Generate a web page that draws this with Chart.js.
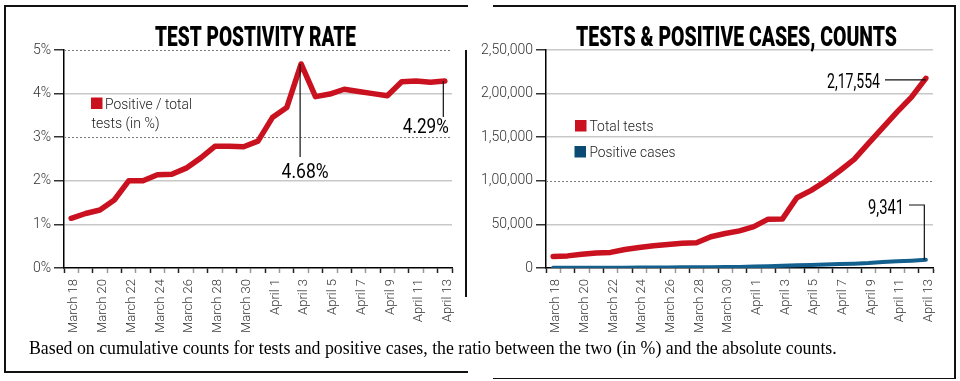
<!DOCTYPE html>
<html><head><meta charset="utf-8">
<script src="https://cdn.jsdelivr.net/npm/chart.js@4.4.1/dist/chart.umd.min.js"></script>
<style>
html,body{margin:0;padding:0;background:#fff;width:960px;height:381px;overflow:hidden}
#wrap{position:relative;width:960px;height:381px}
canvas{position:absolute;top:0}
.ln{position:absolute;background:#111}
#foot{position:absolute;left:29px;top:338px;font-family:"Liberation Serif",serif;font-size:19px;line-height:19px;white-space:nowrap;transform-origin:0 0;color:#000}
</style></head><body>
<div id="wrap">
<canvas id="c1" width="470" height="340" style="left:0"></canvas>
<canvas id="c2" width="480" height="340" style="left:480px"></canvas>
<div class="ln" style="left:4px;top:5px;width:464px;height:1.5px"></div>
<div class="ln" style="left:4px;top:5px;width:1.5px;height:367px"></div>
<div class="ln" style="left:4px;top:371px;width:464px;height:1.5px"></div>
<div class="ln" style="left:465px;top:50px;width:1.5px;height:247px"></div>
<div class="ln" style="left:493px;top:5px;width:462px;height:1.5px"></div>
<div class="ln" style="left:954px;top:5px;width:1.5px;height:374px"></div>
<div class="ln" style="left:493px;top:377.5px;width:462px;height:1.5px"></div>
<div id="foot">Based on cumulative counts for tests and positive cases, the ratio between the two (in %) and the absolute counts.</div>
</div>
<script>
// ---------- DATA ----------
const categories = ['March 18','March 19','March 20','March 21','March 22','March 23','March 24','March 25','March 26','March 27','March 28','March 29','March 30','March 31','April 1','April 2','April 3','April 4','April 5','April 6','April 7','April 8','April 9','April 10','April 11','April 12','April 13'];
const xTickLabels = ['March 18','March 20','March 22','March 24','March 26','March 28','March 30','April 1','April 3','April 5','April 7','April 9','April 11','April 13'];
const positivityRate = [1.14,1.25,1.33,1.56,2.00,2.00,2.14,2.15,2.29,2.52,2.79,2.79,2.78,2.91,3.45,3.68,4.68,3.93,3.99,4.10,4.05,4.00,3.95,4.27,4.29,4.26,4.29];
const totalTests = [13200,13900,15800,17200,17900,21200,23500,25500,27000,28500,28900,35900,39500,42600,47500,56000,56300,80500,89000,99500,111500,124500,143000,161000,179000,196000,217554];
const positiveCases = [150,174,210,268,358,424,503,548,618,718,806,1002,1098,1240,1639,2061,2635,3164,3551,4080,4516,4980,5649,6875,7679,8350,9341];
const yTickLabelsLeft = ['0%','1%','2%','3%','4%','5%'];
const yTickLabelsRight = ['0','50,000','1,00,000','1,50,000','2,00,000','2,50,000'];
const peakIndex = 16;

// ---------- helpers ----------
function indianFormat(n){
  const s = String(Math.round(n));
  if (s.length <= 3) return s;
  const last3 = s.slice(-3); let rest = s.slice(0,-3); const parts = [];
  while (rest.length > 2){ parts.unshift(rest.slice(-2)); rest = rest.slice(0,-2); }
  if (rest) parts.unshift(rest);
  return parts.join(',') + ',' + last3;
}
function fitText(ctx, text, x, y, w, align){
  const m = ctx.measureText(text).width; const s = w / m;
  const x0 = align === 'center' ? x - w/2 : (align === 'right' ? x - w : x);
  ctx.save(); ctx.translate(x0, y); ctx.scale(s, 1); ctx.textAlign = 'left'; ctx.textBaseline = 'alphabetic';
  ctx.fillText(text, 0, 0); ctx.restore();
}
function line(ctx, pts, w){
  ctx.save(); ctx.strokeStyle = '#111'; ctx.lineWidth = w || 1.2; ctx.beginPath();
  ctx.moveTo(pts[0][0], pts[0][1]); for (let i=1;i<pts.length;i++) ctx.lineTo(pts[i][0], pts[i][1]);
  ctx.stroke(); ctx.restore();
}

const dottedGrid = {
  id: 'dottedGrid',
  beforeDatasetsDraw(chart, args, opts){
    const y = chart.scales.y, a = chart.chartArea, ctx = chart.ctx;
    ctx.save(); ctx.strokeStyle = opts.color; ctx.lineWidth = 1; ctx.setLineDash([2,2]);
    opts.values.forEach(v => { const py = Math.round(y.getPixelForValue(v)) + 0.5;
      ctx.beginPath(); ctx.moveTo(a.left, py); ctx.lineTo(a.right, py); ctx.stroke(); });
    ctx.restore();
  }
};

const RED = '#c9111f', BLUE = '#13608e', LEG_BLUE = '#0b4a72';
const tickFont = {family: 'Roboto', size: 14, weight: '300'};
const xFont = {family: 'Roboto', size: 13, weight: '300'};

function xScale(){
  return {
    type: 'category', offset: true,
    grid: {display: true, drawOnChartArea: false, offset: true, tickLength: 5, tickWidth: 1.5,
      tickColor: c => (c.index % 2 ? '#9a9a9a' : '#222')},
    border: {display: true, color: '#000', width: 1.5},
    ticks: {autoSkip: false, maxRotation: 90, minRotation: 90, padding: 6, labelOffset: 3, color: '#333', font: xFont,
      callback: (v, i) => xTickLabels.includes(categories[i]) ? categories[i] : ''}
  };
}
function yScale(max, step, labels, dotted, width){
  return {
    min: 0, max: max,
    afterFit: s => { s.width = width; },
    grid: {color: c => (dotted.includes(c.tick.value) || c.tick.value === 0) ? 'rgba(0,0,0,0)' : '#c8c8c8',
      lineWidth: 1.5, tickColor: '#333', tickLength: 10, tickWidth: 1.5},
    border: {display: true, color: '#000', width: 1.5},
    ticks: {stepSize: step, padding: 3, color: '#333', font: tickFont,
      callback: (v, i) => labels[i]}
  };
}

// ---------- LEFT CHART ----------
const leftDecor = {
  id: 'leftDecor',
  afterDraw(chart){
    const ctx = chart.ctx;
    ctx.save(); ctx.fillStyle = '#000';
    ctx.font = '900 27px Roboto';
    fitText(ctx, 'TEST POSTIVITY RATE', 155, 46, 201, 'left');
    ctx.fillStyle = RED; ctx.fillRect(91, 97.5, 11.5, 11.5);
    ctx.fillStyle = '#222'; ctx.font = '300 15px Roboto';
    fitText(ctx, 'Positive / total', 105, 108.5, 87, 'left');
    fitText(ctx, 'tests (in %)', 91.5, 128, 68, 'left');
    const meta = chart.getDatasetMeta(0);
    const pk = meta.data[peakIndex], ls = meta.data[meta.data.length - 1];
    line(ctx, [[pk.x - 1, pk.y], [pk.x - 1, 157]]);
    line(ctx, [[ls.x - 1.5, ls.y], [ls.x - 1.5, 117]]);
    ctx.fillStyle = '#000'; ctx.font = '400 21px Roboto';
    fitText(ctx, positivityRate[peakIndex].toFixed(2) + '%', pk.x + 4, 178, 47, 'center');
    fitText(ctx, positivityRate[positivityRate.length - 1].toFixed(2) + '%', ls.x + 4, 133, 46, 'right');
    ctx.restore();
  }
};

new Chart(document.getElementById('c1'), {
  type: 'line',
  data: {labels: categories, datasets: [{data: positivityRate, borderColor: RED, borderWidth: 5.5, pointRadius: 0,
    tension: 0, borderJoinStyle: 'round', borderCapStyle: 'round', fill: false}]},
  options: {
    responsive: false, animation: false, devicePixelRatio: 1,
    layout: {padding: {left: 0, top: 50, right: 18, bottom: 0}},
    plugins: {legend: {display: false}, tooltip: {enabled: false}, title: {display: false},
      dottedGrid: {values: [5, 3], color: '#7a7a7a'}},
    scales: {
      x: Object.assign(xScale(), {afterFit: s => { s.height = 72; }}),
      y: yScale(5, 1, yTickLabelsLeft, [5, 3], 64)
    }
  },
  plugins: [dottedGrid, leftDecor]
});

// ---------- RIGHT CHART ----------
const rightDecor = {
  id: 'rightDecor',
  afterDraw(chart){
    const ctx = chart.ctx;
    ctx.save(); ctx.fillStyle = '#000';
    ctx.font = '900 27px Roboto';
    fitText(ctx, 'TESTS & POSITIVE CASES, COUNTS', 96, 46, 321, 'left');
    ctx.fillStyle = RED; ctx.fillRect(95, 120, 11.5, 11.5);
    ctx.fillStyle = LEG_BLUE; ctx.fillRect(94.5, 146, 11.5, 11.5);
    ctx.fillStyle = '#222'; ctx.font = '300 15px Roboto';
    fitText(ctx, 'Total tests', 109.5, 131, 64, 'left');
    fitText(ctx, 'Positive cases', 109.5, 157, 86, 'left');
    const mT = chart.getDatasetMeta(0), mP = chart.getDatasetMeta(1);
    const lt = mT.data[mT.data.length - 1], lp = mP.data[mP.data.length - 1];
    line(ctx, [[405, lt.y + 1.5], [lt.x, lt.y + 1.5]]);
    line(ctx, [[429, 205], [lp.x - 1.5, 205], [lp.x - 1.5, lp.y]]);
    ctx.fillStyle = '#000'; ctx.font = '400 21px Roboto';
    fitText(ctx, indianFormat(totalTests[totalTests.length - 1]), 400, lt.y + 10, 53, 'right');
    fitText(ctx, indianFormat(positiveCases[positiveCases.length - 1]), 424, 214, 36, 'right');
    ctx.restore();
  }
};

new Chart(document.getElementById('c2'), {
  type: 'line',
  data: {labels: categories, datasets: [
    {data: totalTests, borderColor: RED, borderWidth: 5.5, pointRadius: 0, tension: 0, borderJoinStyle: 'round', borderCapStyle: 'round', fill: false},
    {data: positiveCases, borderColor: BLUE, borderWidth: 4, pointRadius: 0, tension: 0, borderJoinStyle: 'round', borderCapStyle: 'round', fill: false}
  ]},
  options: {
    responsive: false, animation: false, devicePixelRatio: 1,
    layout: {padding: {left: 0, top: 50, right: 27, bottom: 0}},
    plugins: {legend: {display: false}, tooltip: {enabled: false}, title: {display: false},
      dottedGrid: {values: [100000], color: '#7a7a7a'}},
    scales: {
      x: Object.assign(xScale(), {afterFit: s => { s.height = 72; }}),
      y: yScale(250000, 50000, yTickLabelsRight, [100000], 66)
    }
  },
  plugins: [dottedGrid, rightDecor]
});

// ---------- footer fit ----------
const foot = document.getElementById('foot');
const fw = foot.offsetWidth;
foot.style.transform = 'scaleX(' + (808 / fw) + ')';
</script>
</body></html>
